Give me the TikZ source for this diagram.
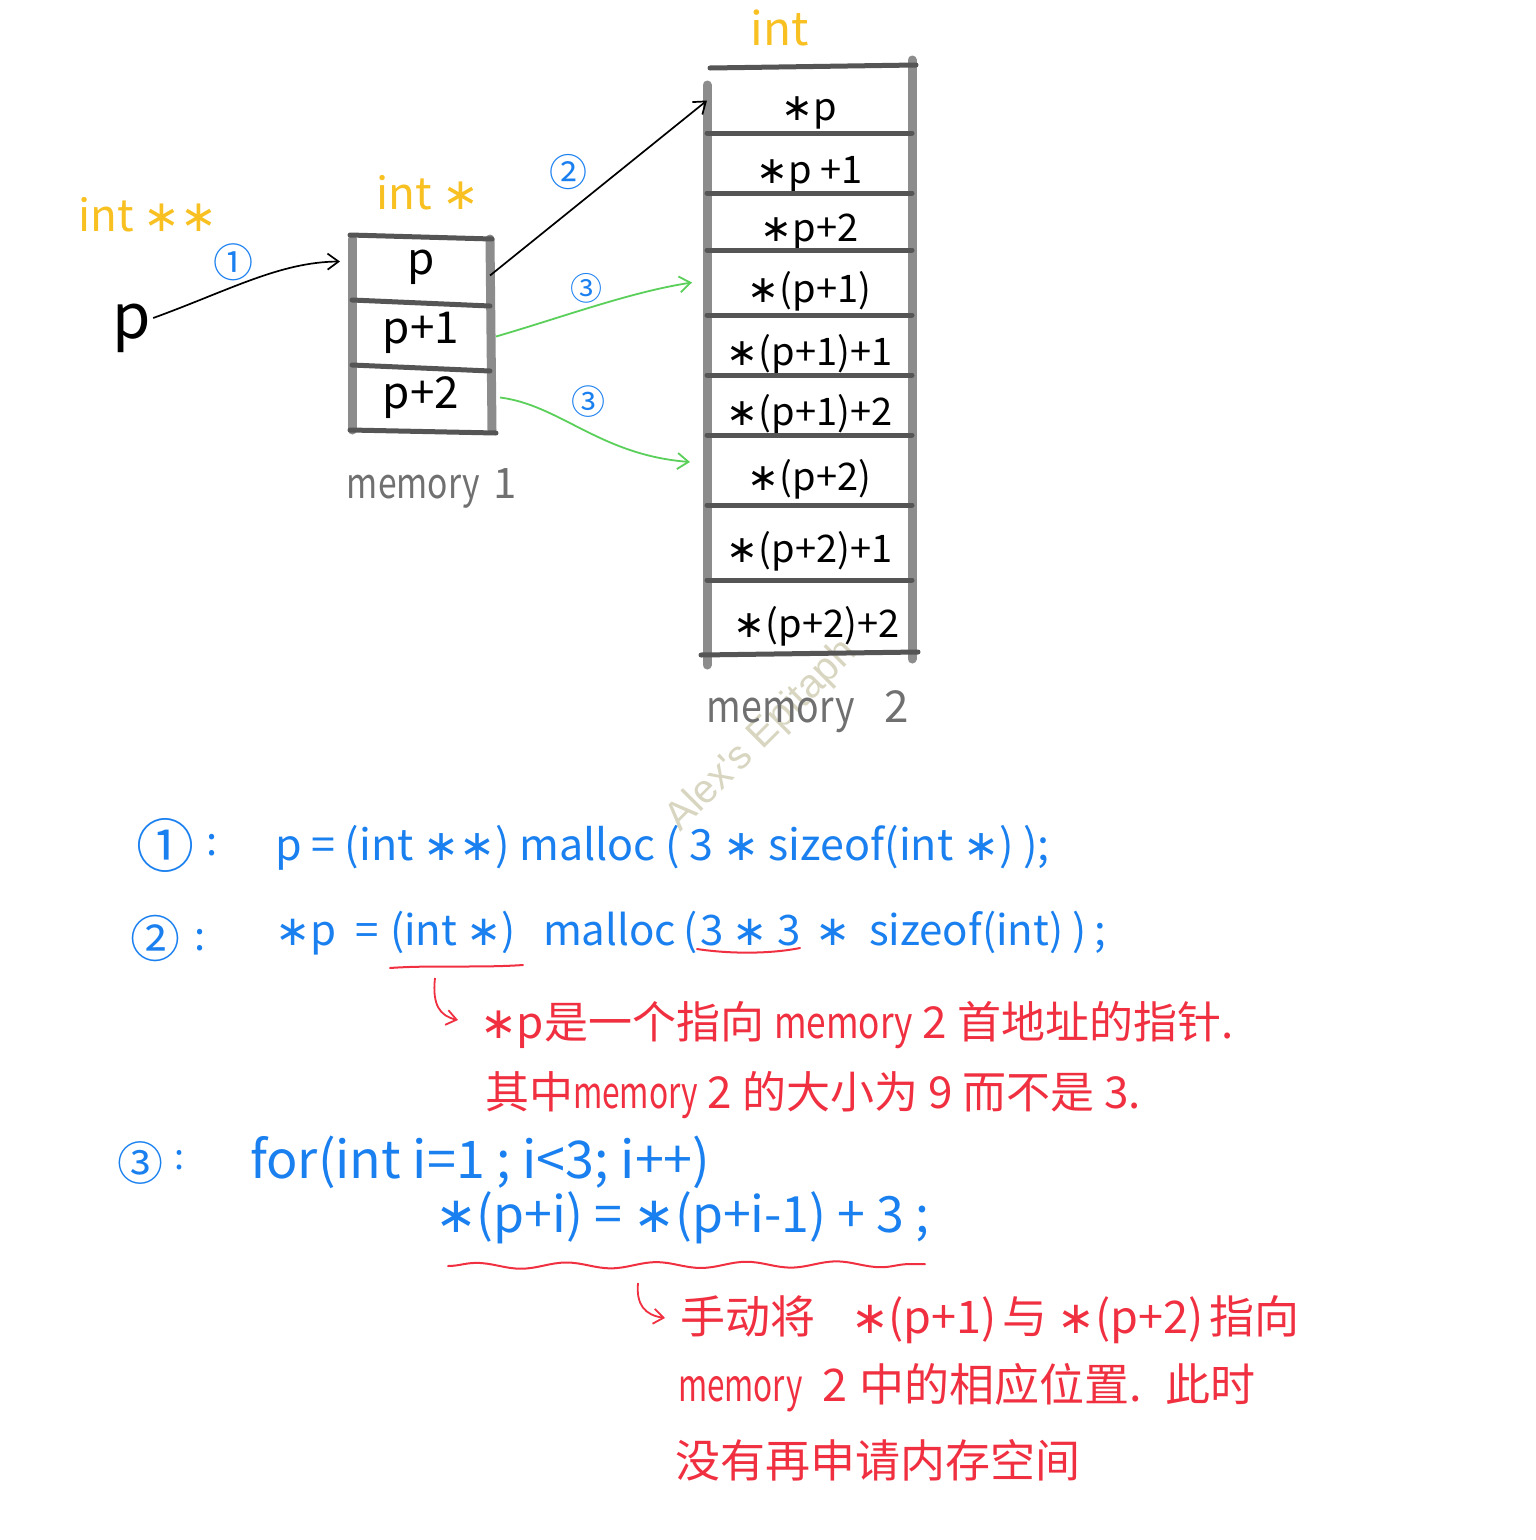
\documentclass[tikz,border=0pt]{standalone}
\usepackage{graphicx}
\usepackage{fontspec}
\setmainfont{Noto Sans CJK SC}
\newfontfamily\wmfont{Liberation Sans}
\newfontfamily\djv{DejaVu Sans}
\newcommand{\hast}{{\djv ∗}}
\newcommand{\nmem}[1]{\scalebox{#1}[1]{memory}}
\usetikzlibrary{arrows.meta,decorations.pathmorphing,calc}
\definecolor{hwyellow}{HTML}{F8C020}
\definecolor{hwblue}{HTML}{1A80F0}
\definecolor{hwgreen}{HTML}{5AD05A}
\definecolor{hwred}{HTML}{F03040}
\definecolor{hwgray}{HTML}{707070}
\definecolor{framegray}{HTML}{8C8C8C}
\definecolor{rulegray}{HTML}{555555}
\definecolor{wmcolor}{HTML}{D8D6C0}
\begin{document}
\begin{tikzpicture}[x=1pt,y=-1pt,
 every node/.style={inner sep=0pt,outer sep=0pt},
 fs/.style={font=\fontsize{#1pt}{#1pt}\selectfont},
 yel/.style={text=hwyellow},
 blu/.style={text=hwblue},
 rdt/.style={text=hwred},
 gry/.style={text=hwgray},
 mcellA/.style={minimum width=138pt, minimum height=65pt, fs=44},
 mcellB/.style={minimum width=205pt, minimum height=#1pt, fs=38, text height=40pt, text depth=0pt},
 side/.style={draw=framegray, line width=9pt, line cap=round},
 rule/.style={draw=rulegray, line width=5pt, line cap=round},
 blkarrow/.style={draw=black, line width=1.7pt, -{Straight Barb[length=11pt,width=16pt]}},
 grnarrow/.style={draw=hwgreen, line width=1.8pt, -{Straight Barb[length=11pt,width=16pt]}},
 redarrow/.style={draw=hwred, line width=1.8pt, -{Straight Barb[length=10pt,width=15pt]}},
 redline/.style={draw=hwred, line width=2pt, line cap=round},
 wm/.style={text=wmcolor, font=\wmfont\fontsize{40pt}{40pt}\selectfont}
]
\fill[white] (0,0) rectangle (1536,1540);
\useasboundingbox (0,0) rectangle (1536,1540);

% watermark
\node[wm, rotate=45] (wmark) at (762,736) {Alex's Epitaph};

% type labels
\node[yel, fs=44] (t1) at (148,215) {int \hast\hast};
\node[yel, fs=44] (t2) at (428,193) {int \hast};
\node[yel, fs=46] (t3) at (780,28) {int};

% pointer p
\node[fs=62] (p) at (132,328) {p};

% memory 1
\node[mcellA] (m1r1) at (421,267.5) {p};
\node[mcellA] (m1r2) at (421,332.5) {p+1};
\node[mcellA] (m1r3) at (421,397.5) {p+2};
\draw[side] ([yshift=-4pt]m1r1.north west) -- (m1r3.south west);
\draw[side] ([yshift=-4pt]m1r1.north east) -- ([xshift=2pt]m1r3.south east);
\draw[rule] ([xshift=-2pt]m1r1.north west) -- ([xshift=2pt,yshift=-4pt]m1r1.north east);
\draw[rule] (m1r1.south west) -- ([yshift=-6pt]m1r1.south east);
\draw[rule] (m1r2.south west) -- ([yshift=-6pt]m1r2.south east);
\draw[rule] ([xshift=-2pt]m1r3.south west) -- ([xshift=6pt,yshift=-3pt]m1r3.south east);
\node[gry, fs=42] (mem1) at (432,488) {\nmem{0.8}\hspace{14pt}1};

% memory 2
\node[mcellB=65] (m2r1) at (809.5,100.5) {\hast p};
\node[mcellB=60] (m2r2) at (809.5,163) {\hast p +1};
\node[mcellB=57] (m2r3) at (809.5,221.5) {\hast p+2};
\node[mcellB=65] (m2r4) at (809.5,282.5) {\hast(p+1)\hspace{50pt}};
\node[mcellB=60] (m2r5) at (809.5,345) {\hast(p+1)+1\hspace{20pt}};
\node[mcellB=60] (m2r6) at (809.5,405) {\hast(p+1)+2};
\node[mcellB=70] (m2r7) at (809.5,470) {\hast(p+2)\hspace{50pt}};
\node[mcellB=75] (m2r8) at (809.5,542.5) {\hast(p+2)+1};
\node[mcellB=75] (m2r9) at (809.5,617.5) {\hspace{14pt}\hast(p+2)+2};
\draw[side] ([yshift=-17pt]m2r1.north west) -- ([yshift=-10pt]m2r9.south west);
\draw[side] ([yshift=8pt]m2r1.north east) -- ([yshift=-4pt]m2r9.south east);
\foreach \k in {1,...,8} \draw[rule] (m2r\k.south west) -- (m2r\k.south east);
\draw[rule] ([xshift=3pt]m2r1.north west) -- ([xshift=4pt,yshift=3pt]m2r1.north east);
\draw[rule] ([xshift=-6pt]m2r9.south west) -- ([xshift=6pt,yshift=3pt]m2r9.south east);
\node[gry, fs=44] (mem2) at (808,712) {\nmem{0.85}\hspace{30pt}2};

% connectors
\draw[blkarrow] ([xshift=2pt,yshift=10pt]p.east) .. controls (230,290) and (280,262) .. ([xshift=-12pt,yshift=6pt]m1r1.west);
\node[blu, fs=40] (n1a) at (233,262) {①};
\draw[blkarrow] ([yshift=-8pt]m1r1.east) -- (m2r1.west);
\node[blu, fs=38] (n2a) at (568,172) {②};
\draw[grnarrow] ([xshift=6pt,yshift=-4pt]m1r2.east) .. controls (560,318) and (630,292) .. ([xshift=-15pt]m2r4.west);
\node[blu, fs=32] (n3a) at (586,288) {③};
\draw[grnarrow] ([xshift=10pt]m1r3.east) .. controls (560,405) and (600,455) .. ([xshift=-17pt,yshift=8pt]m2r7.west);
\node[blu, fs=34] (n3b) at (588,402) {③};

% code line 1
\node[blu, fs=58] (n1) at (165,845) {①};
\node[blu, fs=40] (col1) at (212,845) {:};
\node[blu, fs=43, anchor=base west] (code1) at (275,860) {p = (int \hast\hast) malloc ( 3 \hast\ sizeof(int \hast) );};

% code line 2
\node[blu, fs=50] (n2) at (155,938) {②};
\node[blu, fs=40] (col2) at (200,940) {:};
\node[blu, fs=42, anchor=base west] (c2a) at (275,945) {\hast p\ \ =};
\node[blu, fs=42, anchor=base west] (c2b) at (390,945) {(int \hast)};
\node[blu, fs=42, anchor=base west] (c2c) at (543,945) {malloc\,(};
\node[blu, fs=42, anchor=base west] (c2d) at (700,945) {3 \hast\ 3};
\node[blu, fs=42, anchor=base west] (c2e) at (815,945) {\hast\ \ sizeof(int) )\,;};
\draw[redline] (390,968) .. controls (430,965) and (480,968) .. (523,965);
\draw[redline] (697,949) .. controls (730,954) and (770,954) .. (800,948);
\coordinate (u1) at (435,978);

% note 1
\node[rdt, fs=44, anchor=west] (note1) at (480,1025) {\hast p是一个指向 \nmem{0.8} 2 首地址的指针.};
\node[rdt, fs=44, anchor=west] (note2) at (485,1095) {其中\nmem{0.72} 2 的大小为 9 而不是 3.};
\draw[redarrow] (u1) .. controls (432,1005) and (440,1016) .. ([xshift=-22pt,yshift=5pt]note1.west);

% code line 3
\node[blu, fs=46] (n3) at (140,1163) {③};
\node[blu, fs=36] (col3) at (180,1160) {:};
\node[blu, fs=52, anchor=base west] (code3) at (250,1178) {for(int i=1 ; i<3; i++)};
\node[blu, fs=50, anchor=base west] (code4) at (435,1232) {\hast(p+i) = \hast(p+i-1) + 3 ;};
\draw[redline, decorate, decoration={snake, amplitude=3pt, segment length=90pt}] (448,1266) -- (925,1264);
\coordinate (u2) at (638,1283);

% note 2
\node[rdt, fs=45, anchor=west] (note3) at (680,1320) {手动将\hspace{36pt}\hast(p+1)\hspace{6pt}与\hspace{10pt}\hast(p+2)\hspace{6pt}指向};
\node[rdt, fs=45, anchor=west] (note4) at (678,1388) {\nmem{0.7}\hspace{20pt}2\hspace{12pt}中的相应位置.\hspace{24pt}此时};
\node[rdt, fs=45, anchor=west] (note5) at (675,1460) {没有再申请内存空间};
\draw[redarrow] (u2) .. controls (636,1305) and (645,1315) .. ([xshift=-15pt,yshift=2pt]note3.west);
\end{tikzpicture}
\end{document}
